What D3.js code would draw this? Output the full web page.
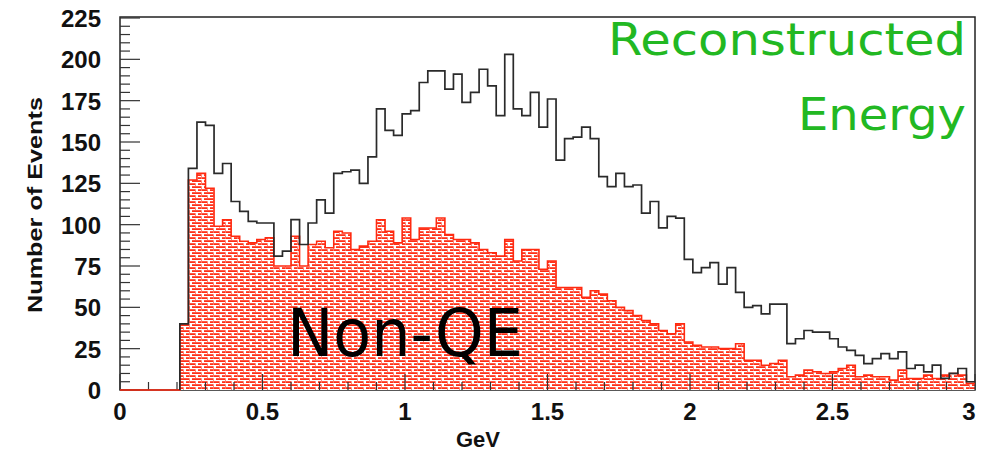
<!DOCTYPE html>
<html>
<head>
<meta charset="utf-8">
<script src="https://cdn.jsdelivr.net/npm/d3@7"></script>
<style>
  body { margin: 0; background: #fff; }
  text { font-family: "Liberation Sans", Arial, sans-serif; }
</style>
</head>
<body>
<div id="chart"></div>
<script>
const width = 984;
const height = 454;
const plot = { left: 120, right: 975, top: 18, bottom: 390 };

// histogram binning (GeV)
const binStart = 0;
const binWidth = 0.03;

// all events, 100 bins from 0 to 3 GeV
const totalEvents = [
  0, 0, 0, 0, 0, 0, 0, 40, 134, 162,
  160, 131, 137, 114, 108, 102, 101, 101, 81, 84,
  103, 88, 101, 115, 107, 131, 132, 133, 125, 141,
  170, 157, 154, 167, 169, 186, 193, 193, 182, 191,
  174, 180, 194, 184, 166, 203, 170, 166, 180, 159,
  176, 139, 152, 153, 159, 152, 129, 123, 131, 123,
  124, 107, 114, 98, 105, 104, 79, 71, 74, 77,
  64, 74, 59, 50, 51, 46, 52, 52, 28, 31,
  36, 35, 35, 31, 26, 24, 21, 16, 19, 22,
  19, 23, 13, 15, 11, 15, 7, 10, 13, 5
];

// non-QE events, same bins
const nonQE = [
  0, 0, 0, 0, 0, 0, 0, 40, 127, 131,
  122, 99, 103, 93, 90, 89, 91, 92, 75, 75,
  93, 75, 88, 90, 86, 96, 95, 85, 87, 90,
  103, 96, 89, 104, 91, 98, 98, 104, 94, 91,
  91, 89, 85, 83, 81, 91, 78, 85, 85, 73,
  78, 62, 62, 62, 56, 60, 58, 54, 50, 48,
  45, 42, 40, 36, 34, 40, 29, 27, 26, 26,
  25, 25, 28, 18, 18, 15, 16, 18, 8, 9,
  12, 11, 10, 11, 13, 15, 8, 9, 8, 8,
  6, 12, 7, 7, 9, 7, 9, 10, 9, 4
];

const xTicks = [0, 0.5, 1, 1.5, 2, 2.5, 3];
const yTicks = [0, 25, 50, 75, 100, 125, 150, 175, 200, 225];

const xScale = d3.scaleLinear().domain([0, 3]).range([plot.left, plot.right]);
const yScale = d3.scaleLinear().domain([0, 225]).range([plot.bottom, plot.top]);

const svg = d3.select("#chart")
  .append("svg")
  .attr("width", width)
  .attr("height", height);

// brick-like hatch
const defs = svg.append("defs");
const pat = defs.append("pattern")
  .attr("id", "brick")
  .attr("patternUnits", "userSpaceOnUse")
  .attr("width", 12)
  .attr("height", 6);
pat.append("rect").attr("width", 12).attr("height", 6).attr("fill", "#fff");
pat.append("rect").attr("x", 0).attr("y", 0.2).attr("width", 9).attr("height", 1.8).attr("fill", "#ff3018");
pat.append("rect").attr("x", 6).attr("y", 3.2).attr("width", 6).attr("height", 1.8).attr("fill", "#ff3018");
pat.append("rect").attr("x", 0).attr("y", 3.2).attr("width", 3).attr("height", 1.8).attr("fill", "#ff3018");
pat.append("rect").attr("x", 9).attr("y", 0.2).attr("width", 0.9).attr("height", 4.8).attr("fill", "#ff7a6a");
pat.append("rect").attr("x", 3).attr("y", 3.2).attr("width", 0.9).attr("height", 2.8).attr("fill", "#ff7a6a");

function stepPoints(values, skipLeadingZeros) {
  const pts = [];
  let first = 0;
  if (skipLeadingZeros) {
    while (first < values.length && values[first] === 0) first++;
    pts.push([binStart + first * binWidth, 0]);
  }
  for (let i = first; i < values.length; i++) {
    const x0 = binStart + i * binWidth;
    pts.push([x0, values[i]]);
    pts.push([x0 + binWidth, values[i]]);
  }
  return pts;
}

const line = d3.line()
  .x(d => xScale(d[0]))
  .y(d => yScale(d[1]));

const area = d3.area()
  .x(d => xScale(d[0]))
  .y0(yScale(0))
  .y1(d => yScale(d[1]));

// frame
svg.append("rect")
  .attr("x", plot.left)
  .attr("y", plot.top - 1)
  .attr("width", plot.right - plot.left)
  .attr("height", plot.bottom - plot.top + 1)
  .attr("fill", "none")
  .attr("stroke", "#222")
  .attr("stroke-width", 1.5);

// non-QE histogram (hatched)
svg.append("path")
  .attr("d", area(stepPoints(nonQE, true)))
  .attr("fill", "url(#brick)");

// y ticks: major every 25, minor every 5
const yMinor = d3.range(0, 226, 5);
svg.append("g")
  .selectAll("line")
  .data(yMinor)
  .join("line")
  .attr("x1", plot.left)
  .attr("x2", d => plot.left + (d % 25 === 0 ? 20 : 10))
  .attr("y1", d => yScale(d))
  .attr("y2", d => yScale(d))
  .attr("stroke", "#333")
  .attr("stroke-width", 1.2);

// x ticks: major every 0.5, minor every 0.1
const xMinor = d3.range(0, 31).map(i => i / 10);
svg.append("g")
  .selectAll("line")
  .data(xMinor)
  .join("line")
  .attr("x1", d => xScale(d))
  .attr("x2", d => xScale(d))
  .attr("y1", plot.bottom)
  .attr("y2", d => plot.bottom - (Math.round(d * 10) % 5 === 0 ? 16 : 8))
  .attr("stroke", "#333")
  .attr("stroke-width", 1.2);

svg.append("path")
  .attr("d", line(stepPoints(nonQE, false)))
  .attr("fill", "none")
  .attr("stroke", "#ff2a10")
  .attr("stroke-width", 1.6);

// all events
svg.append("path")
  .attr("d", line(stepPoints(totalEvents, true)))
  .attr("fill", "none")
  .attr("stroke", "#2a2a2a")
  .attr("stroke-width", 1.7);

// tick labels
svg.append("g")
  .selectAll("text")
  .data(yTicks)
  .join("text")
  .attr("x", 101)
  .attr("y", d => yScale(d))
  .attr("dy", "0.38em")
  .attr("text-anchor", "end")
  .attr("font-size", 24)
  .attr("font-weight", "bold")
  .attr("fill", "#111")
  .text(d => d);

svg.append("g")
  .selectAll("text")
  .data(xTicks)
  .join("text")
  .attr("x", d => d === 3 ? xScale(d) - 6 : xScale(d))
  .attr("y", 420)
  .attr("text-anchor", "middle")
  .attr("font-size", 24)
  .attr("font-weight", "bold")
  .attr("fill", "#111")
  .text(d => d);

// axis titles
svg.append("text")
  .attr("x", 478)
  .attr("y", 447)
  .attr("text-anchor", "middle")
  .attr("font-size", 22)
  .attr("font-weight", "bold")
  .attr("fill", "#111")
  .text("GeV");

svg.append("text")
  .attr("transform", "translate(42,205) rotate(-90)")
  .attr("text-anchor", "middle")
  .attr("font-size", 20)
  .attr("font-weight", "bold")
  .attr("fill", "#111")
  .attr("textLength", 216)
  .attr("lengthAdjust", "spacingAndGlyphs")
  .text("Number of Events");

// annotations
svg.append("text")
  .attr("x", 966)
  .attr("y", 55)
  .attr("text-anchor", "end")
  .attr("font-size", 44)
  .attr("fill", "#22b822")
  .attr("textLength", 358)
  .attr("lengthAdjust", "spacingAndGlyphs")
  .style("font-family", "'DejaVu Sans', sans-serif")
  .text("Reconstructed");

svg.append("text")
  .attr("x", 966)
  .attr("y", 130)
  .attr("text-anchor", "end")
  .attr("font-size", 44)
  .attr("fill", "#22b822")
  .attr("textLength", 168)
  .attr("lengthAdjust", "spacingAndGlyphs")
  .style("font-family", "'DejaVu Sans', sans-serif")
  .text("Energy");

svg.append("text")
  .attr("x", 287)
  .attr("y", 356)
  .attr("font-size", 66)
  .attr("fill", "#000")
  .attr("textLength", 236)
  .attr("lengthAdjust", "spacingAndGlyphs")
  .style("font-family", "'DejaVu Sans', sans-serif")
  .text("Non-QE");
</script>
</body>
</html>
